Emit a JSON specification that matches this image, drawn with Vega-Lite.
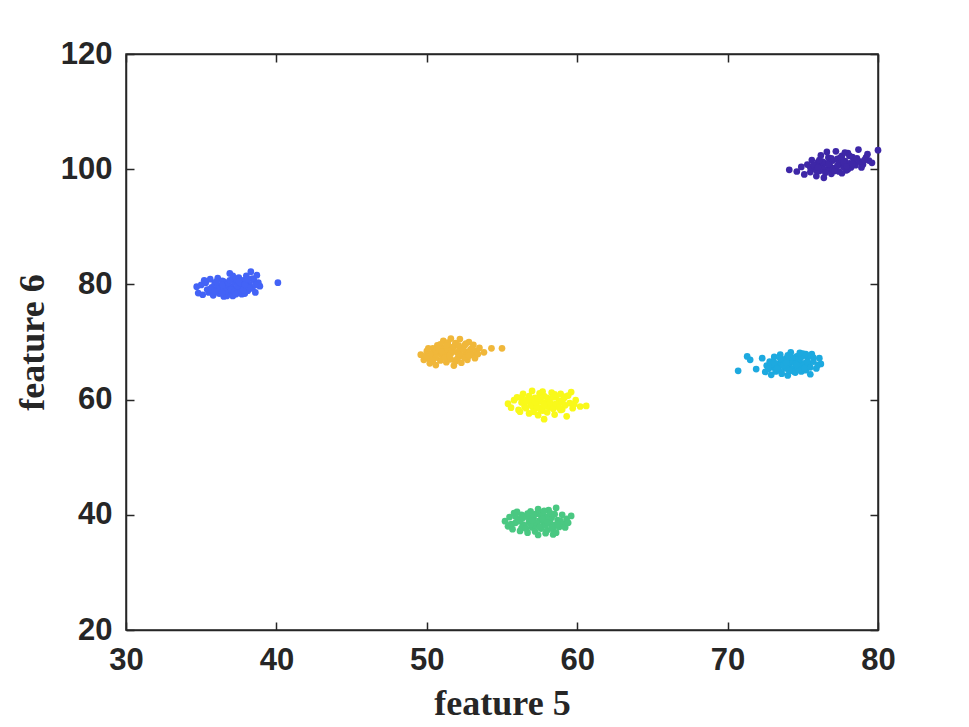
{
  "$schema": "https://vega.github.io/schema/vega-lite/v6.json",
  "width": 752,
  "height": 576,
  "autosize": "none",
  "padding": {"left": 126, "top": 54, "right": 91, "bottom": 97},
  "background": "white",
  "config": {
    "view": {"stroke": "#262626", "strokeWidth": 1.5},
    "axis": {
      "grid": false,
      "domainColor": "#262626",
      "domainWidth": 1.5,
      "tickColor": "#262626",
      "tickWidth": 1.5,
      "tickSize": -8,
      "labelFont": "Liberation Sans",
      "labelFontWeight": "bold",
      "labelFontSize": 31,
      "labelColor": "#262626",
      "titleFont": "Liberation Serif",
      "titleFontWeight": "bold",
      "titleFontSize": 36,
      "titleColor": "#262626"
    }
  },
  "data": {
    "values": [
      {"f5":34.7,"f6":79.6,"c":"A"},{"f5":34.8,"f6":78.5,"c":"A"},{"f5":35.0,"f6":79.9,"c":"A"},{"f5":35.1,"f6":78.2,"c":"A"},{"f5":35.3,"f6":80.3,"c":"A"},{"f5":35.4,"f6":79.1,"c":"A"},{"f5":35.5,"f6":78.6,"c":"A"},{"f5":35.6,"f6":80.9,"c":"A"},{"f5":35.7,"f6":79.5,"c":"A"},{"f5":35.8,"f6":78.1,"c":"A"},{"f5":35.9,"f6":80.2,"c":"A"},{"f5":36.0,"f6":79.0,"c":"A"},{"f5":36.1,"f6":81.1,"c":"A"},{"f5":36.2,"f6":78.4,"c":"A"},{"f5":36.3,"f6":79.8,"c":"A"},{"f5":36.4,"f6":80.6,"c":"A"},{"f5":36.5,"f6":77.9,"c":"A"},{"f5":36.6,"f6":79.3,"c":"A"},{"f5":36.7,"f6":80.1,"c":"A"},{"f5":36.8,"f6":78.7,"c":"A"},{"f5":36.9,"f6":81.9,"c":"A"},{"f5":37.0,"f6":79.6,"c":"A"},{"f5":37.1,"f6":78.0,"c":"A"},{"f5":37.2,"f6":80.4,"c":"A"},{"f5":37.3,"f6":79.2,"c":"A"},{"f5":37.4,"f6":78.5,"c":"A"},{"f5":37.5,"f6":81.2,"c":"A"},{"f5":37.6,"f6":79.9,"c":"A"},{"f5":37.7,"f6":78.3,"c":"A"},{"f5":37.8,"f6":80.7,"c":"A"},{"f5":37.9,"f6":79.4,"c":"A"},{"f5":38.0,"f6":81.5,"c":"A"},{"f5":38.1,"f6":78.9,"c":"A"},{"f5":38.2,"f6":80.0,"c":"A"},{"f5":38.3,"f6":82.2,"c":"A"},{"f5":38.4,"f6":79.3,"c":"A"},{"f5":38.5,"f6":80.8,"c":"A"},{"f5":38.6,"f6":78.6,"c":"A"},{"f5":38.7,"f6":81.6,"c":"A"},{"f5":38.9,"f6":79.7,"c":"A"},{"f5":38.4,"f6":81.0,"c":"A"},{"f5":36.3,"f6":78.9,"c":"A"},{"f5":36.9,"f6":79.0,"c":"A"},{"f5":37.3,"f6":80.9,"c":"A"},{"f5":37.7,"f6":79.1,"c":"A"},{"f5":36.5,"f6":80.5,"c":"A"},{"f5":37.9,"f6":78.4,"c":"A"},{"f5":36.1,"f6":79.7,"c":"A"},{"f5":37.5,"f6":78.8,"c":"A"},{"f5":40.1,"f6":80.3,"c":"A"},{"f5":35.2,"f6":80.7,"c":"A"},{"f5":36.7,"f6":78.0,"c":"A"},{"f5":38.8,"f6":80.3,"c":"A"},{"f5":37.1,"f6":81.5,"c":"A"},{"f5":36.0,"f6":80.5,"c":"A"},
      {"f5":36.2,"f6":79.3,"c":"A"},{"f5":36.4,"f6":79.9,"c":"A"},{"f5":36.6,"f6":78.8,"c":"A"},{"f5":36.8,"f6":80.3,"c":"A"},{"f5":37.0,"f6":79.1,"c":"A"},{"f5":37.2,"f6":78.7,"c":"A"},{"f5":37.4,"f6":79.7,"c":"A"},{"f5":37.6,"f6":80.2,"c":"A"},{"f5":37.8,"f6":79.0,"c":"A"},{"f5":38.0,"f6":79.8,"c":"A"},{"f5":38.2,"f6":79.4,"c":"A"},{"f5":36.9,"f6":80.7,"c":"A"},{"f5":37.5,"f6":80.5,"c":"A"},{"f5":36.4,"f6":78.6,"c":"A"},{"f5":37.9,"f6":80.0,"c":"A"},{"f5":38.1,"f6":80.9,"c":"A"},{"f5":35.6,"f6":79.2,"c":"A"},{"f5":35.9,"f6":78.8,"c":"A"},{"f5":38.6,"f6":79.9,"c":"A"},{"f5":37.3,"f6":78.3,"c":"A"},
      {"f5":49.6,"f6":67.8,"c":"B"},{"f5":49.8,"f6":66.9,"c":"B"},{"f5":50.0,"f6":68.4,"c":"B"},{"f5":50.1,"f6":67.2,"c":"B"},{"f5":50.2,"f6":66.3,"c":"B"},{"f5":50.4,"f6":68.9,"c":"B"},{"f5":50.5,"f6":67.5,"c":"B"},{"f5":50.6,"f6":66.0,"c":"B"},{"f5":50.7,"f6":69.4,"c":"B"},{"f5":50.8,"f6":68.1,"c":"B"},{"f5":50.9,"f6":66.8,"c":"B"},{"f5":51.0,"f6":67.7,"c":"B"},{"f5":51.1,"f6":70.2,"c":"B"},{"f5":51.2,"f6":68.5,"c":"B"},{"f5":51.3,"f6":66.5,"c":"B"},{"f5":51.4,"f6":67.9,"c":"B"},{"f5":51.5,"f6":69.1,"c":"B"},{"f5":51.6,"f6":67.0,"c":"B"},{"f5":51.7,"f6":68.6,"c":"B"},{"f5":51.8,"f6":65.9,"c":"B"},{"f5":51.9,"f6":69.8,"c":"B"},{"f5":52.0,"f6":68.2,"c":"B"},{"f5":52.1,"f6":67.4,"c":"B"},{"f5":52.2,"f6":70.5,"c":"B"},{"f5":52.3,"f6":68.9,"c":"B"},{"f5":52.4,"f6":67.6,"c":"B"},{"f5":52.5,"f6":69.4,"c":"B"},{"f5":52.6,"f6":68.3,"c":"B"},{"f5":52.7,"f6":66.9,"c":"B"},{"f5":52.8,"f6":70.0,"c":"B"},{"f5":52.9,"f6":68.7,"c":"B"},{"f5":53.0,"f6":67.8,"c":"B"},{"f5":53.1,"f6":69.5,"c":"B"},{"f5":53.3,"f6":68.4,"c":"B"},{"f5":53.5,"f6":69.0,"c":"B"},{"f5":53.8,"f6":68.2,"c":"B"},{"f5":54.3,"f6":68.9,"c":"B"},{"f5":55.0,"f6":68.9,"c":"B"},{"f5":51.4,"f6":69.9,"c":"B"},{"f5":50.3,"f6":67.9,"c":"B"},{"f5":51.9,"f6":66.6,"c":"B"},{"f5":52.5,"f6":67.3,"c":"B"},{"f5":52.2,"f6":68.9,"c":"B"},{"f5":51.1,"f6":68.8,"c":"B"},{"f5":50.9,"f6":69.6,"c":"B"},{"f5":53.2,"f6":67.2,"c":"B"},{"f5":49.9,"f6":67.5,"c":"B"},{"f5":51.6,"f6":70.6,"c":"B"},{"f5":52.8,"f6":68.1,"c":"B"},{"f5":50.6,"f6":68.5,"c":"B"},
      {"f5":50.6,"f6":67.3,"c":"B"},{"f5":50.8,"f6":68.9,"c":"B"},{"f5":51.0,"f6":68.3,"c":"B"},{"f5":51.2,"f6":67.3,"c":"B"},{"f5":51.4,"f6":68.6,"c":"B"},{"f5":51.6,"f6":68.0,"c":"B"},{"f5":51.8,"f6":69.2,"c":"B"},{"f5":52.0,"f6":67.0,"c":"B"},{"f5":52.2,"f6":67.9,"c":"B"},{"f5":52.4,"f6":68.7,"c":"B"},{"f5":52.6,"f6":69.7,"c":"B"},{"f5":52.8,"f6":67.6,"c":"B"},{"f5":53.0,"f6":68.9,"c":"B"},{"f5":51.5,"f6":67.6,"c":"B"},{"f5":52.1,"f6":69.4,"c":"B"},{"f5":51.3,"f6":69.4,"c":"B"},{"f5":50.4,"f6":66.8,"c":"B"},{"f5":53.4,"f6":67.9,"c":"B"},{"f5":52.3,"f6":66.4,"c":"B"},{"f5":50.1,"f6":68.9,"c":"B"},
      {"f5":55.4,"f6":59.3,"c":"C"},{"f5":55.6,"f6":58.6,"c":"C"},{"f5":55.8,"f6":59.9,"c":"C"},{"f5":56.0,"f6":60.4,"c":"C"},{"f5":56.1,"f6":58.2,"c":"C"},{"f5":56.3,"f6":59.5,"c":"C"},{"f5":56.4,"f6":61.0,"c":"C"},{"f5":56.5,"f6":58.8,"c":"C"},{"f5":56.7,"f6":60.1,"c":"C"},{"f5":56.8,"f6":57.6,"c":"C"},{"f5":56.9,"f6":59.2,"c":"C"},{"f5":57.0,"f6":61.5,"c":"C"},{"f5":57.1,"f6":58.4,"c":"C"},{"f5":57.2,"f6":60.3,"c":"C"},{"f5":57.3,"f6":59.0,"c":"C"},{"f5":57.4,"f6":57.3,"c":"C"},{"f5":57.5,"f6":61.1,"c":"C"},{"f5":57.6,"f6":59.7,"c":"C"},{"f5":57.7,"f6":58.1,"c":"C"},{"f5":57.8,"f6":60.6,"c":"C"},{"f5":57.9,"f6":59.4,"c":"C"},{"f5":58.0,"f6":57.8,"c":"C"},{"f5":58.1,"f6":60.0,"c":"C"},{"f5":58.2,"f6":58.7,"c":"C"},{"f5":58.3,"f6":61.2,"c":"C"},{"f5":58.4,"f6":59.1,"c":"C"},{"f5":58.5,"f6":57.4,"c":"C"},{"f5":58.6,"f6":60.5,"c":"C"},{"f5":58.7,"f6":58.9,"c":"C"},{"f5":58.8,"f6":59.8,"c":"C"},{"f5":58.9,"f6":61.0,"c":"C"},{"f5":59.0,"f6":58.3,"c":"C"},{"f5":59.1,"f6":60.2,"c":"C"},{"f5":59.2,"f6":59.0,"c":"C"},{"f5":59.3,"f6":57.1,"c":"C"},{"f5":59.4,"f6":60.7,"c":"C"},{"f5":59.5,"f6":59.4,"c":"C"},{"f5":59.7,"f6":58.5,"c":"C"},{"f5":59.9,"f6":59.9,"c":"C"},{"f5":60.2,"f6":58.8,"c":"C"},{"f5":60.6,"f6":58.9,"c":"C"},{"f5":57.0,"f6":59.8,"c":"C"},{"f5":57.6,"f6":58.6,"c":"C"},{"f5":58.4,"f6":60.4,"c":"C"},{"f5":56.6,"f6":59.7,"c":"C"},{"f5":58.0,"f6":58.9,"c":"C"},{"f5":58.9,"f6":58.2,"c":"C"},{"f5":56.2,"f6":57.9,"c":"C"},{"f5":57.8,"f6":56.6,"c":"C"},{"f5":59.6,"f6":61.3,"c":"C"},
      {"f5":56.6,"f6":58.5,"c":"C"},{"f5":56.8,"f6":60.6,"c":"C"},{"f5":57.0,"f6":58.9,"c":"C"},{"f5":57.2,"f6":59.6,"c":"C"},{"f5":57.4,"f6":60.2,"c":"C"},{"f5":57.6,"f6":58.2,"c":"C"},{"f5":57.8,"f6":59.1,"c":"C"},{"f5":58.0,"f6":60.3,"c":"C"},{"f5":58.2,"f6":59.5,"c":"C"},{"f5":58.4,"f6":58.4,"c":"C"},{"f5":58.6,"f6":59.3,"c":"C"},{"f5":58.8,"f6":58.6,"c":"C"},{"f5":59.0,"f6":59.6,"c":"C"},{"f5":59.2,"f6":60.5,"c":"C"},{"f5":57.3,"f6":58.5,"c":"C"},{"f5":57.7,"f6":61.4,"c":"C"},{"f5":58.5,"f6":60.9,"c":"C"},{"f5":56.3,"f6":60.4,"c":"C"},{"f5":59.8,"f6":59.2,"c":"C"},{"f5":57.1,"f6":57.9,"c":"C"},
      {"f5":55.2,"f6":38.9,"c":"D"},{"f5":55.4,"f6":38.0,"c":"D"},{"f5":55.5,"f6":39.6,"c":"D"},{"f5":55.7,"f6":37.5,"c":"D"},{"f5":55.8,"f6":40.3,"c":"D"},{"f5":55.9,"f6":38.6,"c":"D"},{"f5":56.1,"f6":39.2,"c":"D"},{"f5":56.2,"f6":37.2,"c":"D"},{"f5":56.3,"f6":40.0,"c":"D"},{"f5":56.4,"f6":38.3,"c":"D"},{"f5":56.6,"f6":39.8,"c":"D"},{"f5":56.7,"f6":36.9,"c":"D"},{"f5":56.8,"f6":38.8,"c":"D"},{"f5":56.9,"f6":40.6,"c":"D"},{"f5":57.0,"f6":37.8,"c":"D"},{"f5":57.1,"f6":39.4,"c":"D"},{"f5":57.2,"f6":38.1,"c":"D"},{"f5":57.3,"f6":40.2,"c":"D"},{"f5":57.4,"f6":36.5,"c":"D"},{"f5":57.5,"f6":39.0,"c":"D"},{"f5":57.6,"f6":37.6,"c":"D"},{"f5":57.7,"f6":40.4,"c":"D"},{"f5":57.8,"f6":38.5,"c":"D"},{"f5":57.9,"f6":39.7,"c":"D"},{"f5":58.0,"f6":37.3,"c":"D"},{"f5":58.1,"f6":40.8,"c":"D"},{"f5":58.2,"f6":38.7,"c":"D"},{"f5":58.3,"f6":39.5,"c":"D"},{"f5":58.4,"f6":36.6,"c":"D"},{"f5":58.5,"f6":38.2,"c":"D"},{"f5":58.6,"f6":41.2,"c":"D"},{"f5":58.7,"f6":39.1,"c":"D"},{"f5":58.8,"f6":37.9,"c":"D"},{"f5":59.0,"f6":40.0,"c":"D"},{"f5":59.1,"f6":38.4,"c":"D"},{"f5":59.3,"f6":39.3,"c":"D"},{"f5":59.6,"f6":39.8,"c":"D"},{"f5":58.4,"f6":37.4,"c":"D"},{"f5":56.5,"f6":38.1,"c":"D"},{"f5":57.2,"f6":37.1,"c":"D"},{"f5":57.6,"f6":39.9,"c":"D"},{"f5":56.0,"f6":40.5,"c":"D"},{"f5":58.9,"f6":38.9,"c":"D"},{"f5":57.9,"f6":36.8,"c":"D"},{"f5":56.8,"f6":39.5,"c":"D"},{"f5":55.6,"f6":38.4,"c":"D"},{"f5":57.4,"f6":41.0,"c":"D"},{"f5":58.2,"f6":40.3,"c":"D"},{"f5":56.3,"f6":37.7,"c":"D"},{"f5":59.2,"f6":37.8,"c":"D"},
      {"f5":56.2,"f6":38.9,"c":"D"},{"f5":56.4,"f6":39.5,"c":"D"},{"f5":56.6,"f6":37.6,"c":"D"},{"f5":56.9,"f6":38.4,"c":"D"},{"f5":57.1,"f6":40.0,"c":"D"},{"f5":57.3,"f6":38.6,"c":"D"},{"f5":57.5,"f6":37.9,"c":"D"},{"f5":57.7,"f6":39.3,"c":"D"},{"f5":57.9,"f6":38.2,"c":"D"},{"f5":58.1,"f6":39.1,"c":"D"},{"f5":58.3,"f6":37.8,"c":"D"},{"f5":58.5,"f6":40.1,"c":"D"},{"f5":58.7,"f6":38.4,"c":"D"},{"f5":56.7,"f6":40.2,"c":"D"},{"f5":57.0,"f6":39.0,"c":"D"},{"f5":57.8,"f6":40.7,"c":"D"},{"f5":58.0,"f6":38.7,"c":"D"},{"f5":55.9,"f6":39.7,"c":"D"},{"f5":59.4,"f6":38.6,"c":"D"},{"f5":58.6,"f6":36.9,"c":"D"},
      {"f5":70.7,"f6":65.0,"c":"E"},{"f5":71.3,"f6":67.5,"c":"E"},{"f5":71.5,"f6":66.9,"c":"E"},{"f5":71.9,"f6":65.3,"c":"E"},{"f5":72.3,"f6":67.2,"c":"E"},{"f5":72.5,"f6":64.8,"c":"E"},{"f5":72.6,"f6":65.9,"c":"E"},{"f5":72.8,"f6":66.6,"c":"E"},{"f5":72.9,"f6":64.3,"c":"E"},{"f5":73.0,"f6":65.6,"c":"E"},{"f5":73.1,"f6":67.4,"c":"E"},{"f5":73.2,"f6":64.9,"c":"E"},{"f5":73.3,"f6":66.2,"c":"E"},{"f5":73.4,"f6":65.1,"c":"E"},{"f5":73.5,"f6":67.8,"c":"E"},{"f5":73.6,"f6":64.5,"c":"E"},{"f5":73.7,"f6":66.7,"c":"E"},{"f5":73.8,"f6":65.4,"c":"E"},{"f5":73.9,"f6":67.1,"c":"E"},{"f5":74.0,"f6":64.2,"c":"E"},{"f5":74.1,"f6":66.0,"c":"E"},{"f5":74.2,"f6":68.2,"c":"E"},{"f5":74.3,"f6":65.3,"c":"E"},{"f5":74.4,"f6":66.9,"c":"E"},{"f5":74.5,"f6":64.7,"c":"E"},{"f5":74.6,"f6":67.5,"c":"E"},{"f5":74.7,"f6":65.8,"c":"E"},{"f5":74.8,"f6":66.5,"c":"E"},{"f5":74.9,"f6":64.9,"c":"E"},{"f5":75.0,"f6":68.0,"c":"E"},{"f5":75.1,"f6":66.3,"c":"E"},{"f5":75.2,"f6":65.1,"c":"E"},{"f5":75.3,"f6":67.3,"c":"E"},{"f5":75.4,"f6":66.1,"c":"E"},{"f5":75.5,"f6":64.4,"c":"E"},{"f5":75.6,"f6":67.9,"c":"E"},{"f5":75.7,"f6":66.6,"c":"E"},{"f5":75.9,"f6":65.4,"c":"E"},{"f5":76.1,"f6":67.2,"c":"E"},{"f5":76.2,"f6":66.2,"c":"E"},{"f5":73.5,"f6":66.0,"c":"E"},{"f5":74.2,"f6":66.7,"c":"E"},{"f5":73.9,"f6":65.6,"c":"E"},{"f5":74.7,"f6":67.0,"c":"E"},{"f5":73.2,"f6":65.7,"c":"E"},{"f5":75.0,"f6":65.8,"c":"E"},{"f5":74.4,"f6":64.9,"c":"E"},{"f5":73.6,"f6":67.0,"c":"E"},{"f5":75.4,"f6":67.6,"c":"E"},{"f5":72.9,"f6":66.1,"c":"E"},
      {"f5":73.1,"f6":66.4,"c":"E"},{"f5":73.3,"f6":65.4,"c":"E"},{"f5":73.5,"f6":67.2,"c":"E"},{"f5":73.7,"f6":65.9,"c":"E"},{"f5":73.9,"f6":66.4,"c":"E"},{"f5":74.1,"f6":65.0,"c":"E"},{"f5":74.3,"f6":67.3,"c":"E"},{"f5":74.5,"f6":66.2,"c":"E"},{"f5":74.7,"f6":65.2,"c":"E"},{"f5":74.9,"f6":67.4,"c":"E"},{"f5":75.1,"f6":65.5,"c":"E"},{"f5":75.3,"f6":66.5,"c":"E"},{"f5":75.5,"f6":65.6,"c":"E"},{"f5":75.7,"f6":67.3,"c":"E"},{"f5":74.0,"f6":67.7,"c":"E"},{"f5":74.6,"f6":66.0,"c":"E"},{"f5":75.2,"f6":67.9,"c":"E"},{"f5":72.7,"f6":65.3,"c":"E"},{"f5":74.8,"f6":68.1,"c":"E"},{"f5":76.0,"f6":66.0,"c":"E"},
      {"f5":74.1,"f6":99.9,"c":"F"},{"f5":74.6,"f6":99.6,"c":"F"},{"f5":74.9,"f6":100.4,"c":"F"},{"f5":75.1,"f6":99.1,"c":"F"},{"f5":75.3,"f6":100.8,"c":"F"},{"f5":75.5,"f6":99.5,"c":"F"},{"f5":75.6,"f6":101.6,"c":"F"},{"f5":75.8,"f6":100.1,"c":"F"},{"f5":75.9,"f6":98.8,"c":"F"},{"f5":76.0,"f6":101.2,"c":"F"},{"f5":76.1,"f6":99.7,"c":"F"},{"f5":76.2,"f6":102.4,"c":"F"},{"f5":76.3,"f6":100.5,"c":"F"},{"f5":76.4,"f6":98.5,"c":"F"},{"f5":76.5,"f6":101.0,"c":"F"},{"f5":76.6,"f6":99.9,"c":"F"},{"f5":76.7,"f6":102.0,"c":"F"},{"f5":76.8,"f6":100.6,"c":"F"},{"f5":76.9,"f6":99.2,"c":"F"},{"f5":77.0,"f6":101.5,"c":"F"},{"f5":77.1,"f6":100.2,"c":"F"},{"f5":77.2,"f6":103.1,"c":"F"},{"f5":77.3,"f6":101.8,"c":"F"},{"f5":77.4,"f6":99.6,"c":"F"},{"f5":77.5,"f6":100.9,"c":"F"},{"f5":77.6,"f6":102.3,"c":"F"},{"f5":77.7,"f6":100.4,"c":"F"},{"f5":77.8,"f6":101.4,"c":"F"},{"f5":77.9,"f6":99.8,"c":"F"},{"f5":78.0,"f6":102.8,"c":"F"},{"f5":78.1,"f6":101.0,"c":"F"},{"f5":78.2,"f6":100.3,"c":"F"},{"f5":78.3,"f6":102.1,"c":"F"},{"f5":78.4,"f6":101.6,"c":"F"},{"f5":78.5,"f6":100.7,"c":"F"},{"f5":78.7,"f6":103.4,"c":"F"},{"f5":78.8,"f6":101.3,"c":"F"},{"f5":79.0,"f6":100.8,"c":"F"},{"f5":79.2,"f6":102.0,"c":"F"},{"f5":79.4,"f6":101.5,"c":"F"},{"f5":79.6,"f6":101.1,"c":"F"},{"f5":80.0,"f6":103.3,"c":"F"},{"f5":76.8,"f6":101.8,"c":"F"},{"f5":77.4,"f6":101.1,"c":"F"},{"f5":76.3,"f6":101.3,"c":"F"},{"f5":78.0,"f6":100.0,"c":"F"},{"f5":77.0,"f6":100.0,"c":"F"},{"f5":77.8,"f6":102.9,"c":"F"},{"f5":75.5,"f6":100.3,"c":"F"},{"f5":76.6,"f6":103.0,"c":"F"},
      {"f5":75.7,"f6":100.7,"c":"F"},{"f5":75.9,"f6":99.8,"c":"F"},{"f5":76.1,"f6":101.6,"c":"F"},{"f5":76.3,"f6":100.0,"c":"F"},{"f5":76.5,"f6":99.4,"c":"F"},{"f5":76.7,"f6":100.9,"c":"F"},{"f5":76.9,"f6":101.9,"c":"F"},{"f5":77.1,"f6":99.7,"c":"F"},{"f5":77.3,"f6":100.6,"c":"F"},{"f5":77.5,"f6":102.0,"c":"F"},{"f5":77.7,"f6":101.2,"c":"F"},{"f5":77.9,"f6":100.5,"c":"F"},{"f5":78.1,"f6":102.3,"c":"F"},{"f5":78.3,"f6":101.0,"c":"F"},{"f5":78.6,"f6":101.9,"c":"F"},{"f5":78.9,"f6":100.3,"c":"F"},{"f5":79.1,"f6":101.6,"c":"F"},{"f5":76.0,"f6":100.3,"c":"F"},{"f5":77.6,"f6":99.3,"c":"F"},{"f5":79.3,"f6":102.6,"c":"F"}
    ]
  },
  "layer": [
    {
      "mark": {"type": "point", "shape": "circle", "filled": true, "opacity": 1, "size": 45},
      "encoding": {
        "x": {"field": "f5", "type": "quantitative", "title": "feature 5",
              "scale": {"domain": [30, 80], "nice": false, "zero": false},
              "axis": {"orient": "bottom", "values": [30, 40, 50, 60, 70, 80], "labelPadding": 23, "titlePadding": 11, "labelFlush": false}},
        "y": {"field": "f6", "type": "quantitative", "title": "feature 6",
              "scale": {"domain": [20, 120], "nice": false, "zero": false},
              "axis": {"orient": "left", "values": [20, 40, 60, 80, 100, 120], "labelPadding": 22, "titlePadding": 9, "labelFlush": false}},
        "color": {"field": "c", "type": "nominal", "legend": null,
                  "scale": {"domain": ["A", "B", "C", "D", "E", "F"],
                            "range": ["#4363F6", "#F0B73A", "#F9F91A", "#4AC882", "#1DA9DF", "#3E27A7"]}}
      }
    },
    {
      "mark": {"type": "point", "opacity": 0},
      "encoding": {
        "x": {"field": "f5", "type": "quantitative",
              "axis": {"orient": "top", "values": [30, 40, 50, 60, 70, 80], "labels": false, "title": null}},
        "y": {"field": "f6", "type": "quantitative",
              "axis": {"orient": "right", "values": [20, 40, 60, 80, 100, 120], "labels": false, "title": null}}
      }
    }
  ],
  "resolve": {"axis": {"x": "independent", "y": "independent"}}
}
